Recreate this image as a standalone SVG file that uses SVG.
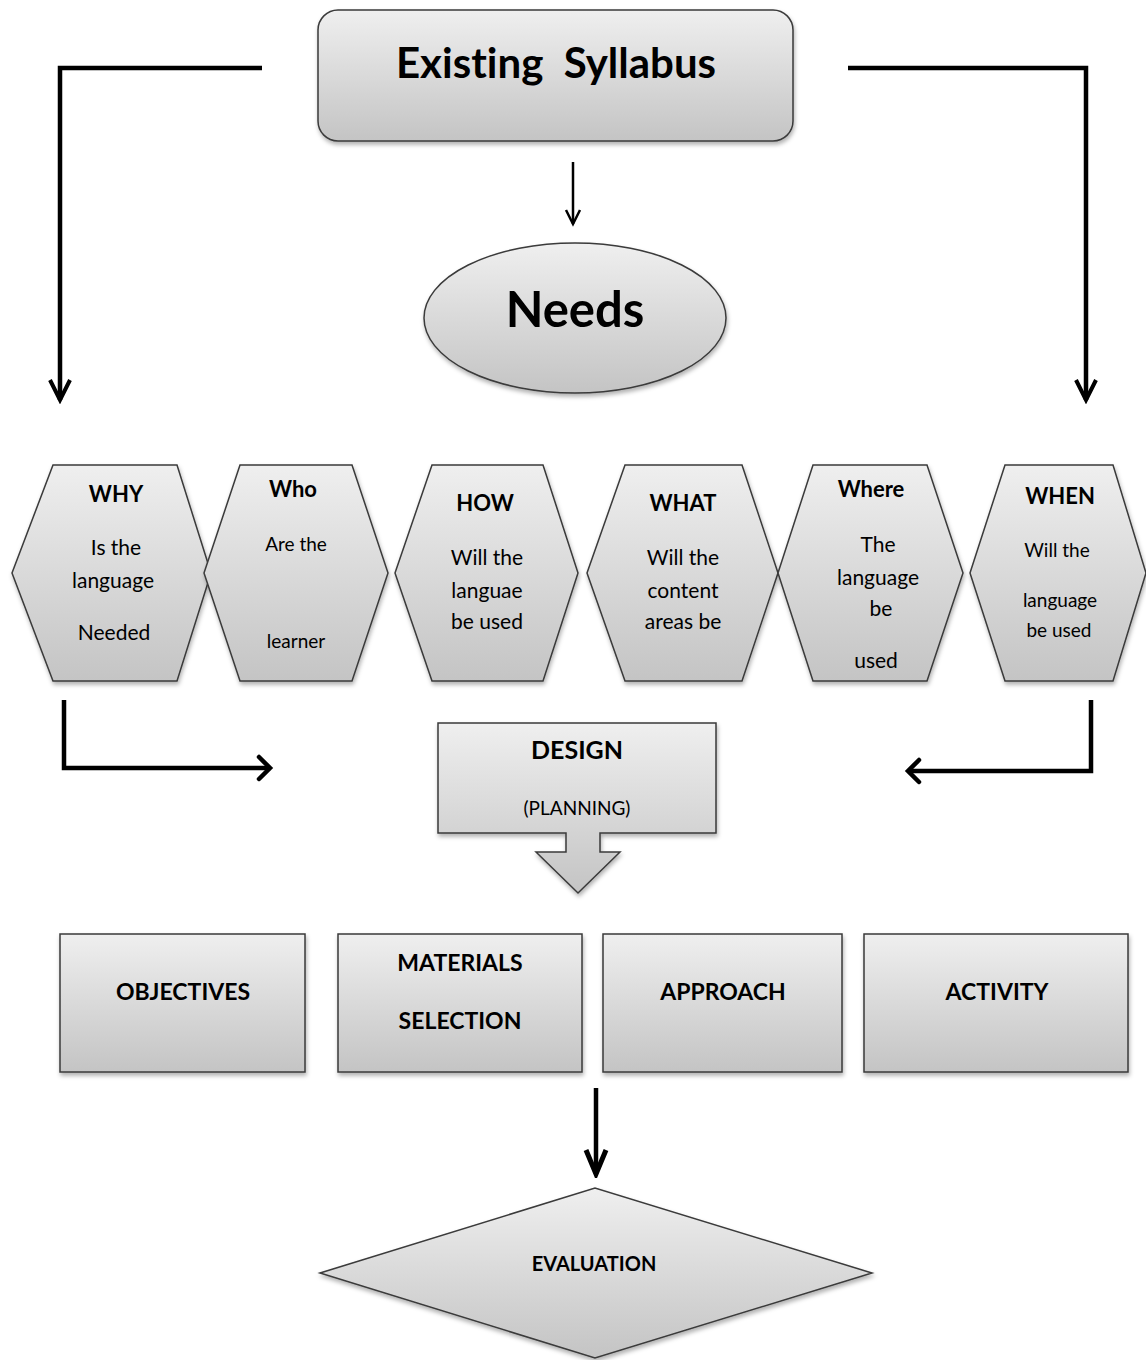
<svg xmlns="http://www.w3.org/2000/svg" width="1146" height="1360" viewBox="0 0 1146 1360">
<defs>
<linearGradient id="g" x1="0" y1="0" x2="0" y2="1">
<stop offset="0" stop-color="#efefef"/>
<stop offset="1" stop-color="#c4c4c4"/>
</linearGradient>
<filter id="sh" x="-10%" y="-10%" width="120%" height="130%">
<feDropShadow dx="1" dy="3" stdDeviation="2" flood-color="#000" flood-opacity="0.3"/>
</filter>
<marker id="chevL" viewBox="-24 -14 28 28" markerWidth="28" markerHeight="28" refX="0" refY="0" orient="auto" markerUnits="userSpaceOnUse">
<path d="M-20,-10 L0,0 L-20,10" fill="none" stroke="#000" stroke-width="4"/>
</marker>
<marker id="chevS" viewBox="-16 -14 20 28" markerWidth="20" markerHeight="28" refX="0" refY="0" orient="auto" markerUnits="userSpaceOnUse">
<path d="M-11,-11 L0,0 L-11,11" fill="none" stroke="#000" stroke-width="4.5" stroke-linecap="round"/>
</marker>
<marker id="chevT" viewBox="-16 -10 20 20" markerWidth="20" markerHeight="20" refX="0" refY="0" orient="auto" markerUnits="userSpaceOnUse">
<path d="M-14,-7 L0,0 L-14,7" fill="none" stroke="#000" stroke-width="2.5"/>
</marker>
<marker id="chevB" viewBox="-26 -14 30 28" markerWidth="30" markerHeight="28" refX="0" refY="0" orient="auto" markerUnits="userSpaceOnUse">
<path d="M-24,-10 L0,0 L-24,10" fill="none" stroke="#000" stroke-width="5"/>
</marker>
</defs>
<style>
.sh{fill:url(#g);stroke:#3a3a3a;stroke-width:1.5;filter:url(#sh)}
.c{fill:none;stroke:#000;stroke-width:4.5}
text{font-family:Lato,"Open Sans","Liberation Sans",sans-serif;fill:#000;text-anchor:middle;font-variant-ligatures:none}
.t{font-weight:bold;font-size:22px}
.b{font-size:21px}
.s{font-size:19px}
.bx{font-weight:bold;font-size:23px}
</style>
<rect width="1146" height="1360" fill="#fff"/>

<g id="connectors">
<polyline class="c" points="262,68 60,68 60,400" marker-end="url(#chevL)"/>
<polyline class="c" points="848,68 1086,68 1086,400" marker-end="url(#chevL)"/>
<line x1="573" y1="162" x2="573" y2="224" fill="none" stroke="#000" stroke-width="2.5" marker-end="url(#chevT)"/>
<polyline class="c" points="64,700 64,768 270,768" marker-end="url(#chevS)"/>
<polyline class="c" points="1091,700 1091,771 908,771" marker-end="url(#chevS)"/>
<line class="c" x1="596" y1="1088" x2="596" y2="1174" marker-end="url(#chevB)"/>
</g>

<g id="existing-syllabus">
<rect class="sh" x="318" y="10" width="475" height="131" rx="20"/>
<text x="556" y="78" style="font-weight:bold;font-size:42px" xml:space="preserve">Existing  Syllabus</text>
</g>

<g id="needs">
<ellipse class="sh" cx="575" cy="318" rx="151" ry="75"/>
<text x="575" y="327" style="font-weight:bold;font-size:49px">Needs</text>
</g>

<g id="why">
<polygon class="sh" points="12,573 53,465 177,465 211,573 177,681 53,681"/>
<text class="t" x="116" y="502">WHY</text>
<text class="b" x="116" y="555">Is the</text>
<text class="b" x="113" y="588">language</text>
<text class="b" x="114" y="640">Needed</text>
</g>

<g id="who">
<polygon class="sh" points="204,573 240,465 352,465 388,573 352,681 240,681"/>
<text class="t" x="293" y="497">Who</text>
<text class="s" x="296" y="551">Are the</text>
<text class="s" x="296" y="648">learner</text>
</g>

<g id="how">
<polygon class="sh" points="395,573 432,465 543,465 578,573 543,681 432,681"/>
<text class="t" x="485" y="511">HOW</text>
<text class="b" x="487" y="565">Will the</text>
<text class="b" x="487" y="598">languae</text>
<text class="b" x="487" y="629">be used</text>
</g>

<g id="what">
<polygon class="sh" points="587,573 625,465 742,465 778,573 742,681 625,681"/>
<text class="t" x="683" y="511">WHAT</text>
<text class="b" x="683" y="565">Will the</text>
<text class="b" x="683" y="598">content</text>
<text class="b" x="683" y="629">areas be</text>
</g>

<g id="where">
<polygon class="sh" points="778,573 813,465 927,465 963,573 927,681 813,681"/>
<text class="t" x="871" y="497">Where</text>
<text class="b" x="878" y="552">The</text>
<text class="b" x="878" y="585">language</text>
<text class="b" x="881" y="616">be</text>
<text class="b" x="876" y="668">used</text>
</g>

<g id="when">
<polygon class="sh" points="970,573 1005,465 1113,465 1146,573 1113,681 1005,681"/>
<text class="t" x="1060" y="504">WHEN</text>
<text class="s" x="1057" y="557">Will the</text>
<text class="s" x="1060" y="607">language</text>
<text class="s" x="1059" y="637">be used</text>
</g>

<g id="design">
<path class="sh" d="M438,723 H716 V833 H600 V852 H620 L578,893 L536,852 H566 V833 H438 Z"/>
<text x="577" y="759" style="font-weight:bold;font-size:25px">DESIGN</text>
<text x="577" y="815" style="font-size:19px">(PLANNING)</text>
</g>

<g id="objectives">
<rect class="sh" x="60" y="934" width="245" height="138"/>
<text class="bx" x="183" y="1000">OBJECTIVES</text>
</g>

<g id="materials-selection">
<rect class="sh" x="338" y="934" width="244" height="138"/>
<text class="bx" x="460" y="971">MATERIALS</text>
<text class="bx" x="460" y="1029">SELECTION</text>
</g>

<g id="approach">
<rect class="sh" x="603" y="934" width="239" height="138"/>
<text class="bx" x="723" y="1000">APPROACH</text>
</g>

<g id="activity">
<rect class="sh" x="864" y="934" width="264" height="138"/>
<text class="bx" x="997" y="1000">ACTIVITY</text>
</g>

<g id="evaluation">
<polygon class="sh" points="320,1273 595,1188 872,1273 595,1358"/>
<text x="594" y="1271" style="font-weight:bold;font-size:20px">EVALUATION</text>
</g>
</svg>
